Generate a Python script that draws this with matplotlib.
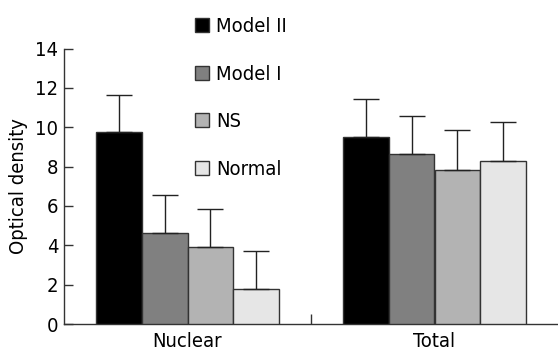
import matplotlib
matplotlib.use("Agg")
import matplotlib.pyplot as plt
import numpy as np

groups = ["Nuclear", "Total"]
series = ["Model II", "Model I", "NS", "Normal"]
means = {
    "Model II": [9.74, 9.48],
    "Model I": [4.62, 8.63],
    "NS": [3.89, 7.85],
    "Normal": [1.79, 8.29],
}
errors = {
    "Model II": [1.92, 1.94],
    "Model I": [1.94, 1.94],
    "NS": [1.93, 2.00],
    "Normal": [1.93, 1.96],
}
colors = ["#000000", "#808080", "#b3b3b3", "#e6e6e6"]
yticks = [0, 2, 4, 6, 8, 10, 12, 14]

plt.rcParams['font.family'] = ['DejaVu Sans']
plt.rcParams['font.stretch'] = 'condensed'
FS = 14.5

fig = plt.figure(figsize=(5.58, 3.54), dpi=100)
ax = fig.add_axes([64/558, 30/354, 1 - 64/558, (324-48.5)/354])

x = np.arange(len(groups))
w = 0.185
offs = (np.arange(len(series)) - 1.5) * w
for i, s in enumerate(series):
    ax.bar(x + offs[i], means[s], width=w, color=colors[i], edgecolor="#333333",
           linewidth=1.0, label=s, zorder=3,
           yerr=[np.zeros(len(groups)), errors[s]],
           error_kw=dict(ecolor="#222222", elinewidth=1.0, capsize=9.5, capthick=1.0))

ax.set_xlim(-0.5, 1.5)
ax.set_ylim(0, 14)
ax.set_yticks(yticks)
ax.set_yticklabels([str(t) for t in yticks], fontsize=FS)
ax.set_xticks(x)
ax.set_xticklabels(groups, fontsize=FS)
ax.tick_params(axis='x', length=0, pad=6)
ax.set_xticks([0.5], minor=True)
ax.tick_params(axis='x', which='minor', direction='in', length=7.5, width=1.0, color="#333333")
ax.tick_params(axis='y', direction='in', length=6.5, width=1.0, color="#333333", pad=4)
for sp in ['top', 'right']:
    ax.spines[sp].set_visible(False)
for sp in ['left', 'bottom']:
    ax.spines[sp].set_color("#333333")
    ax.spines[sp].set_linewidth(1.0)
ax.set_ylabel("Optical density", fontsize=FS, labelpad=5)

fig.legend(loc='upper left', bbox_to_anchor=(195/558, 1 - 17/354), frameon=False,
           fontsize=FS, handlelength=0.7, handleheight=0.7, handletextpad=0.35,
           labelspacing=1.42, borderpad=0, borderaxespad=0)

fig.savefig("out.png", dpi=100)
